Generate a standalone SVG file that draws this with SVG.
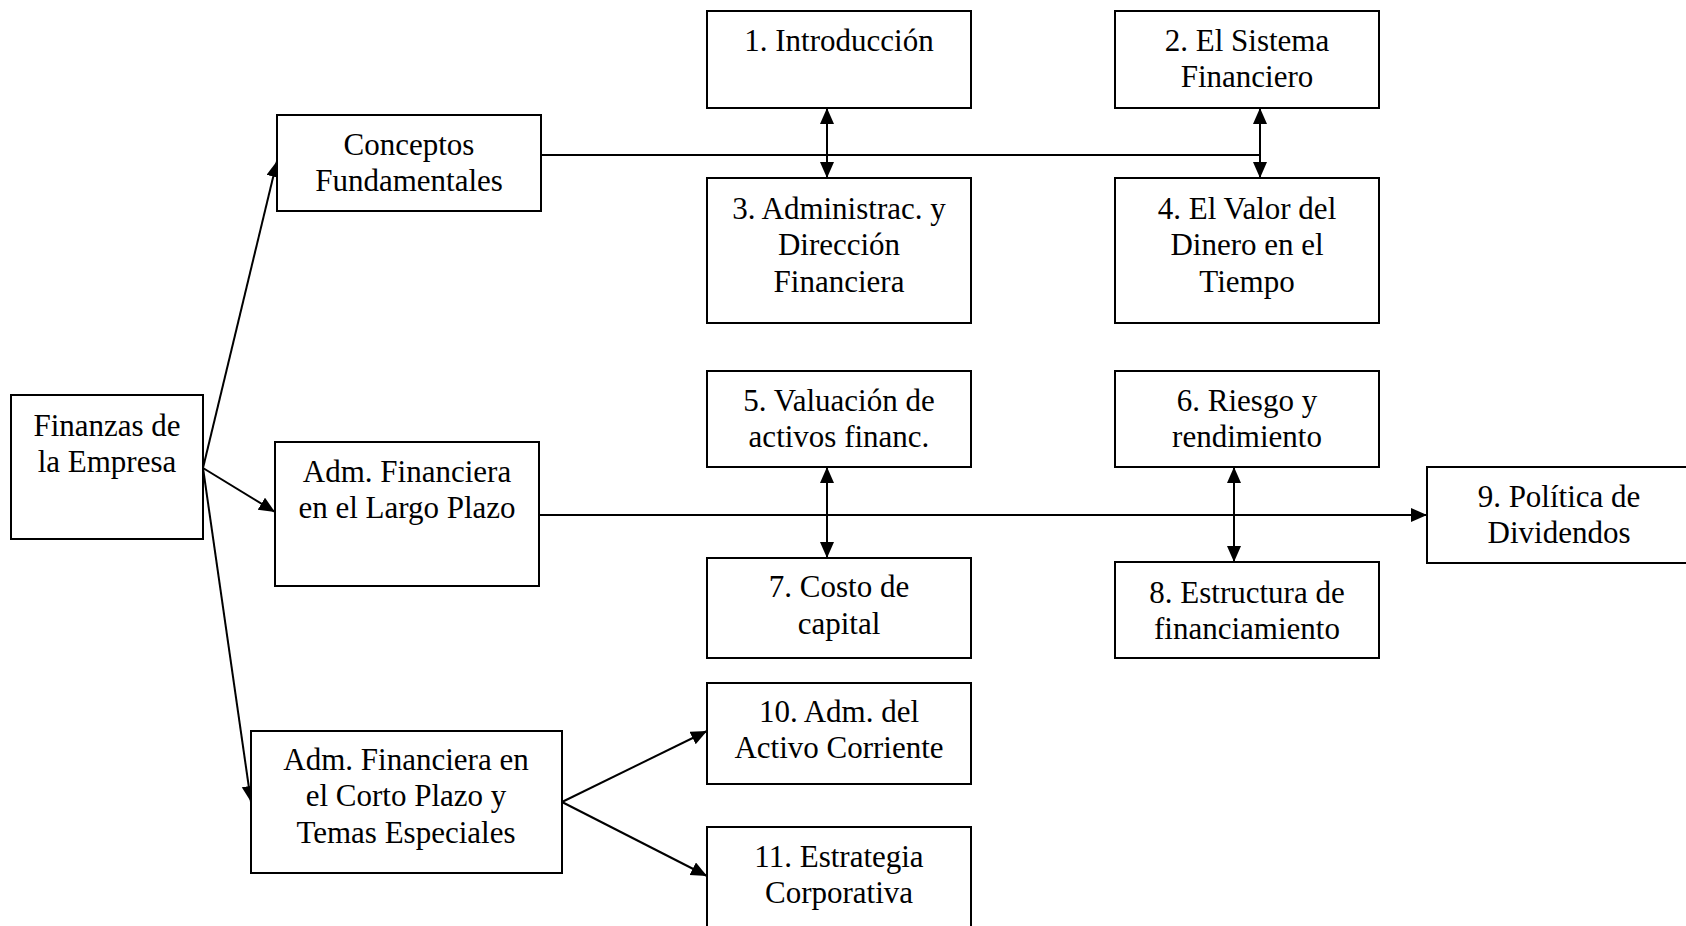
<svg xmlns="http://www.w3.org/2000/svg" width="1686" height="926" viewBox="0 0 1686 926">
<defs>
<style>
.box{fill:#fff;stroke:#000;stroke-width:2}
.t{font-family:"Liberation Serif","Times New Roman",serif;font-size:31px;fill:#000;text-anchor:middle}
.c{fill:none;stroke:#000;stroke-width:2}
</style>
<marker id="ah" markerUnits="userSpaceOnUse" markerWidth="18" markerHeight="16" refX="16" refY="7" orient="auto-start-reverse">
<path d="M0,0 L16,7 L0,14 Z" fill="#000"/>
</marker>
</defs>
<rect width="1686" height="926" fill="#fff"/>
<g id="connectors">
<line class="c" x1="203" y1="468" x2="277" y2="161" marker-end="url(#ah)"/>
<line class="c" x1="203" y1="468" x2="275" y2="512" marker-end="url(#ah)"/>
<line class="c" x1="203" y1="468" x2="251" y2="802" marker-end="url(#ah)"/>
<line class="c" x1="541" y1="155" x2="1260" y2="155"/>
<line class="c" x1="827" y1="108" x2="827" y2="178" marker-start="url(#ah)" marker-end="url(#ah)"/>
<line class="c" x1="1260" y1="108" x2="1260" y2="178" marker-start="url(#ah)" marker-end="url(#ah)"/>
<line class="c" x1="539" y1="515" x2="1427" y2="515" marker-end="url(#ah)"/>
<line class="c" x1="827" y1="467" x2="827" y2="558" marker-start="url(#ah)" marker-end="url(#ah)"/>
<line class="c" x1="1234" y1="467" x2="1234" y2="562" marker-start="url(#ah)" marker-end="url(#ah)"/>
<line class="c" x1="562" y1="802" x2="707" y2="731" marker-end="url(#ah)"/>
<line class="c" x1="562" y1="802" x2="707" y2="876" marker-end="url(#ah)"/>
</g>
<g id="finanzas"><rect class="box" x="11" y="395" width="192" height="144"/>
<text class="t" x="107" y="436">Finanzas de</text><text class="t" x="107" y="472">la Empresa</text></g>
<g id="conceptos"><rect class="box" x="277" y="115" width="264" height="96"/>
<text class="t" x="409" y="155">Conceptos</text><text class="t" x="409" y="191">Fundamentales</text></g>
<g id="largo"><rect class="box" x="275" y="442" width="264" height="144"/>
<text class="t" x="407" y="482">Adm. Financiera</text><text class="t" x="407" y="518">en el Largo Plazo</text></g>
<g id="corto"><rect class="box" x="251" y="731" width="311" height="142"/>
<text class="t" x="406" y="770">Adm. Financiera en</text><text class="t" x="406" y="806">el Corto Plazo y</text><text class="t" x="406" y="843">Temas Especiales</text></g>
<g id="n1"><rect class="box" x="707" y="11" width="264" height="97"/>
<text class="t" x="839" y="51">1. Introducción</text></g>
<g id="n2"><rect class="box" x="1115" y="11" width="264" height="97"/>
<text class="t" x="1247" y="51">2. El Sistema</text><text class="t" x="1247" y="87">Financiero</text></g>
<g id="n3"><rect class="box" x="707" y="178" width="264" height="145"/>
<text class="t" x="839" y="219">3. Administrac. y</text><text class="t" x="839" y="255">Dirección</text><text class="t" x="839" y="292">Financiera</text></g>
<g id="n4"><rect class="box" x="1115" y="178" width="264" height="145"/>
<text class="t" x="1247" y="219">4. El Valor del</text><text class="t" x="1247" y="255">Dinero en el</text><text class="t" x="1247" y="292">Tiempo</text></g>
<g id="n5"><rect class="box" x="707" y="371" width="264" height="96"/>
<text class="t" x="839" y="411">5. Valuación de</text><text class="t" x="839" y="447">activos financ.</text></g>
<g id="n6"><rect class="box" x="1115" y="371" width="264" height="96"/>
<text class="t" x="1247" y="411">6. Riesgo y</text><text class="t" x="1247" y="447">rendimiento</text></g>
<g id="n7"><rect class="box" x="707" y="558" width="264" height="100"/>
<text class="t" x="839" y="597">7. Costo de</text><text class="t" x="839" y="634">capital</text></g>
<g id="n8"><rect class="box" x="1115" y="562" width="264" height="96"/>
<text class="t" x="1247" y="603">8. Estructura de</text><text class="t" x="1247" y="639">financiamiento</text></g>
<g id="n9"><rect class="box" x="1427" y="467" width="270" height="96"/>
<text class="t" x="1559" y="507">9. Política de</text><text class="t" x="1559" y="543">Dividendos</text></g>
<g id="n10"><rect class="box" x="707" y="683" width="264" height="101"/>
<text class="t" x="839" y="722">10. Adm. del</text><text class="t" x="839" y="758">Activo Corriente</text></g>
<g id="n11"><rect class="box" x="707" y="827" width="264" height="110"/>
<text class="t" x="839" y="867">11. Estrategia</text><text class="t" x="839" y="903">Corporativa</text></g>
</svg>
